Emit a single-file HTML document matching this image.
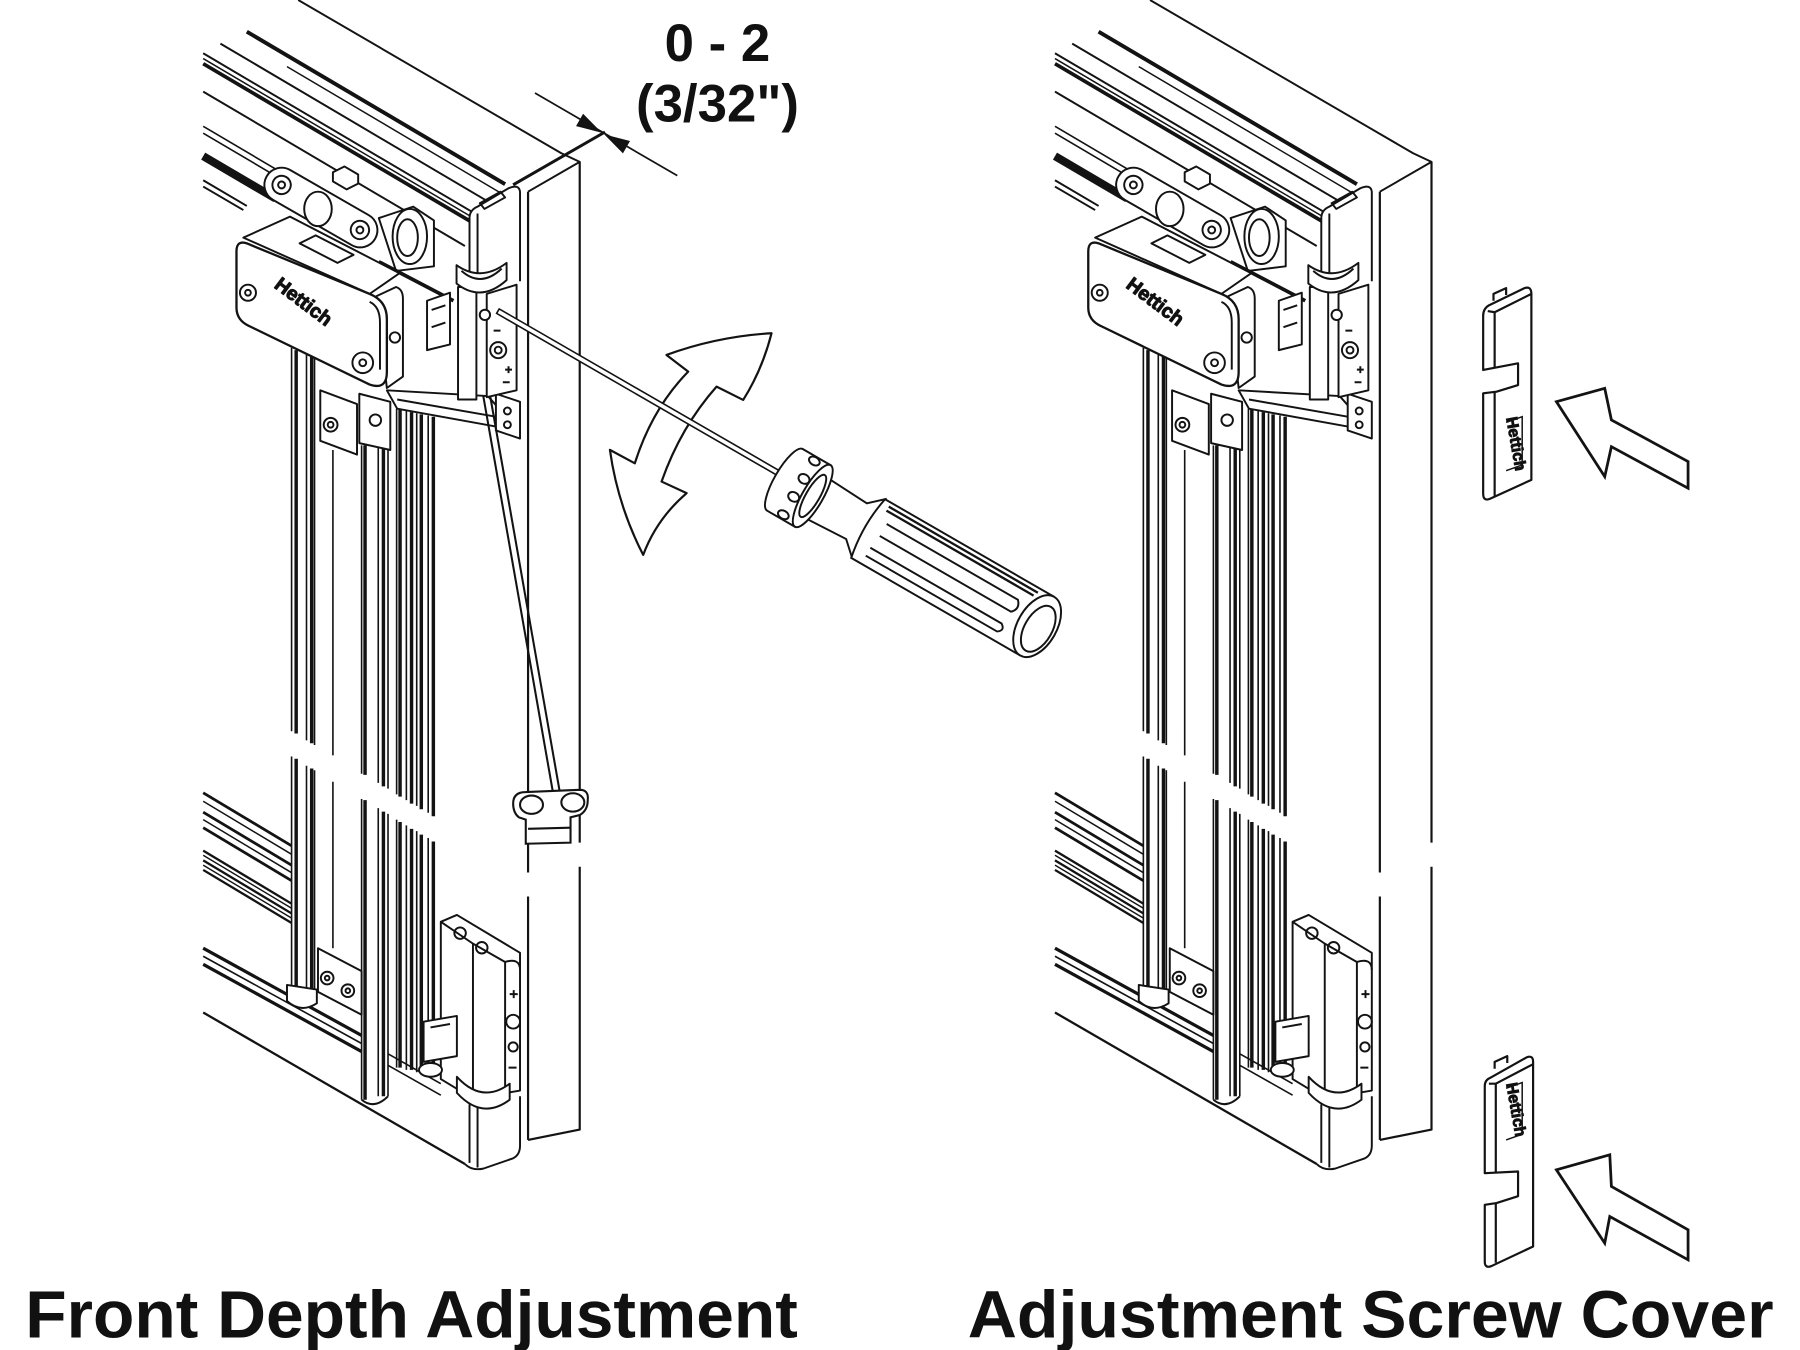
<!DOCTYPE html>
<html><head><meta charset="utf-8">
<style>html,body{margin:0;padding:0;background:#fff;}svg{display:block;}</style>
</head><body>
<svg xmlns="http://www.w3.org/2000/svg" width="1800" height="1350" viewBox="0 0 1568 1176" preserveAspectRatio="none">
<defs>
<g id="fig" fill="none" stroke="#131313" stroke-width="1.7" stroke-linejoin="round">
  <!-- top header rails -->
  <path d="M215,27.6 L440,160.4" stroke-width="3.4"/>
  <path d="M192,38 L430,178.4"/>
  <path d="M250,58 L436,168" stroke-width="1.3"/>
  <path d="M177,46.4 L425,192.7"/>
  <path d="M177,51 L420,194.4" stroke-width="1.3"/>
  <path d="M177,55.5 L415,195.9" stroke-width="3.2"/>
  <path d="M177,79.8 L405,214.3"/>
  <path d="M177,110 L300,182.6 M177,116 L300,188.6" stroke-width="1.4"/>
  <path d="M177,136 L240,173" stroke-width="7"/>
  <path d="M177,157 L215,179.4 M177,162.5 L212,183"/>
  <!-- lower rails -->
  <path d="M177,690.6 L254,736.8 M177,707.5 L254,753.7 M177,721 L254,767.2" stroke-width="2.4"/>
  <path d="M177,698 L254,744.2 M177,714 L254,760.2" stroke-width="1.3"/>
  <path d="M177,741 L254,787.2 M177,749.5 L254,795.7 M177,757.8 L254,804" stroke-width="2"/>
  <path d="M177,745 L254,791.2 M177,753.6 L254,799.8" stroke-width="1.2"/>
  <path d="M177,826 L315,902 M177,840 L315,916" stroke-width="2.8"/>
  <path d="M177,833 L315,909" stroke-width="1.4"/>
  <path d="M338,918 L384,944 M338,928 L384,954" stroke-width="1.4"/>
  <path d="M177,882 L405,1014" stroke-width="2"/>
  <!-- slab -->
  <path d="M259.8,0 L489,133.5 L505,141 L460,167"/>
  <path d="M505,141 V734 M505,755 V984 L460,993 M460,167 V760 M460,781 V993" stroke-width="1.9"/>
  <!-- vertical profiles -->
  <path stroke-width="1.4" d="M254,303 V637 M254,659 V862 M267,309 V645 M267,667 V866 M274,312 V649 M274,671 V868 M290,392 V658 M290,681 V826 M315,388 V674 M315,696 V958 M329.5,390 V682 M329.5,704 V955 M338,390 V687 M338,709 V955 M345.5,356 V692 M345.5,714 V930 M354,358 V697 M354,719 V932 M363,360 V702 M363,724 V934 M373,362 V708 M373,730 V936"/>
  <path stroke-width="3" d="M258,305 V639 M258,661 V862 M271.5,311 V647.5 M271.5,669.5 V868 M318,388 V675 M318,697 V958 M334,390 V685 M334,707 V955 M348.5,357 V694 M348.5,716 V930 M358.5,359 V700 M358.5,722 V932 M367,361 V705 M367,727 V934 M377.5,363 V711 M377.5,733 V936"/>
  <path d="M315,958 Q326,967 338,955"/>
  <!-- carriage -->
  <path d="M330,190 L360,180 L378,192 L378,232 L345,236 Z" fill="#fff"/>
  <ellipse cx="357" cy="206" rx="15" ry="24" fill="#fff"/>
  <ellipse cx="355" cy="207" rx="9" ry="16"/>
  <g transform="translate(245.3,161.1) rotate(29.9)"><rect x="-15" y="-15" width="109" height="30" rx="15" fill="#fff"/><circle r="8"/><circle r="3"/><circle cx="78.7" r="8"/><circle cx="78.7" r="3"/></g>
  <ellipse cx="277" cy="182" rx="12" ry="15" fill="#fff"/>
  <path d="M290,150 L300,145 L312,152 L312,160 L302,165 L290,158 Z" fill="#fff"/>
  <path d="M330,228 L395,262" stroke-width="3.2"/>
  <!-- box -->
  <path d="M212,207 L252.6,188.7 L348,238 L322,256 Z" fill="#fff"/>
  <path d="M261,212 L275,205 L308,222 L294,229 Z"/>
  <path d="M328,258 L345,250 Q351,252 351,260 L351,328 L337,338 Z" fill="#fff"/>
  <path d="M206,219 Q206,209 215,212 L322,256 Q337,262 337,278 L337,324 Q337,340 322,335 L217,284 Q206,279 206,268 Z" fill="#fff" stroke-width="2"/>
  <path d="M322,263 Q331,267 331,281 L331,322"/>
  <circle cx="216" cy="255" r="7"/><circle cx="216" cy="255" r="2.5"/>
  <circle cx="316" cy="316" r="9"/><circle cx="316" cy="316" r="3"/>
  <circle cx="344" cy="294" r="4.5"/>
  <text transform="translate(238,250) rotate(37)" font-family="Liberation Sans, sans-serif" font-weight="bold" font-size="17" fill="#111" stroke="#111" stroke-width="0.9">Hettich</text>
  <!-- plates & bracket -->
  <path d="M279,340 L311,352 L311,396 L279,384 Z" fill="#fff"/>
  <circle cx="288" cy="370" r="6"/><circle cx="288" cy="370" r="2.5"/>
  <path d="M313,343 L340,350 L340,392 L313,386 Z" fill="#fff"/>
  <circle cx="327" cy="366" r="5"/>
  <path d="M337,340 L425,345 L440,362 L440,373 L346,356 Z" fill="#fff"/>
  <path d="M346,348 L432,363"/>
  <path d="M432,343 L453,350 L453,382 L432,375 Z" fill="#fff"/>
  <circle cx="442" cy="358" r="3"/><circle cx="442" cy="370" r="3"/>
  <!-- frame corner top -->
  <path d="M409,240 L409,190 Q409,183 416,180 L443,164 Q452,160 453,167 L453,245" fill="#fff"/>
  <path d="M416,186 V240 M418,177 L436,167 L440,172 L422,182 Z"/>
  <!-- hinge top -->
  <path d="M372,262 L392,255 L392,300 L372,305 Z" fill="#fff"/>
  <path d="M376,270 L388,266 M376,285 L388,281"/>
  <rect x="399" y="250" width="16" height="98" fill="#fff"/>
  <path d="M424,256 L450,248 L450,340 L424,346 Z" fill="#fff"/>
  <circle cx="434" cy="305" r="7"/><circle cx="434" cy="305" r="3"/>
  <circle cx="422.4" cy="274.3" r="4.5" fill="#fff"/>
  <path d="M440,322 h6 M443,319 v6 M438,333 h6 M430,288 h6"/>
  <path d="M397.7,231 L397.7,247 Q419,264 441.3,244 L441.3,229 Q419,246 397.7,231 Z" fill="#fff"/>
  <path d="M402,236 Q419,251 437,234"/>
  <!-- lower plate, foot -->
  <path d="M277,826 L315,846 L315,884 L277,864 Z" fill="#fff"/>
  <circle cx="285" cy="852" r="5.5"/><circle cx="285" cy="852" r="2"/>
  <circle cx="303" cy="863" r="5.5"/><circle cx="303" cy="863" r="2"/>
  <path d="M250,858 L250,872 Q262,883 276,874 L276,862 Z" fill="#fff"/>
  <!-- bottom hinge -->
  <path d="M384,803 L398,797 L453,830 L453,950 L412,957 L384,940 Z" fill="#fff"/>
  <path d="M384,803 L412,822 L440,838 Q453,834 453,845 M412,822 V957 M440,838 V955"/>
  <circle cx="400.8" cy="812.9" r="5"/><circle cx="419.7" cy="825.6" r="5"/>
  <circle cx="447" cy="890" r="6"/><circle cx="447" cy="912" r="4"/>
  <path d="M444,866 h7 M447.5,862.5 v7 M443,930 h7"/>
  <path d="M369,890 L398,885 L398,920 L369,925 Z" fill="#fff"/>
  <path d="M375,895 L392,892"/>
  <ellipse cx="375" cy="932" rx="10" ry="6" fill="#fff"/>
  <path d="M398,938 L398,952 Q420,976 444,958 L444,944 Q420,962 398,938 Z" fill="#fff"/>
  <!-- bottom corner -->
  <path d="M405,1014 Q411,1020 421,1018 L447,1009 Q453,1006 453,998 V955"/>
  <path d="M409,962 V1013 M416,964 V1017"/>
</g>
</defs>
<rect width="1568" height="1176" fill="#fff"/>
<use href="#fig"/>
<use href="#fig" transform="translate(742,0)"/>

<!-- left: dimension -->
<g stroke="#131313" fill="none">
  <path d="M466,81 L590,153" stroke-width="1.5"/>
  <path d="M447,161 L527,115" stroke-width="2.6"/>
  <path d="M522.6,114.7 L502.55,109.5 L508.05,99.9 Z M528,118 L542.55,132.8 L548.05,123.2 Z" fill="#131313" stroke-width="1"/>
</g>
<text x="625" y="53" text-anchor="middle" font-family="Liberation Sans, sans-serif" font-weight="bold" font-size="46" fill="#111">0 - 2</text>
<text x="625" y="106" text-anchor="middle" font-family="Liberation Sans, sans-serif" font-weight="bold" font-size="46" fill="#111">(3/32")</text>

<!-- hex key -->
<g stroke="#131313" fill="none" stroke-width="1.8">
  <path d="M421,345 L482,692 M427,345 L488,692"/>
  <path d="M447,700 Q447,690 458,690 L505,688 Q513,688 512,697 Q512,706 505,710 L497,712 L497,734 L458,735 L458,714 L452,712 Q447,708 447,700 Z" fill="#fff"/>
  <ellipse cx="463" cy="701" rx="10" ry="8"/><ellipse cx="499" cy="699" rx="10" ry="8"/>
  <path d="M460,722 L497,721"/>
</g>

<!-- rotation arrow -->
<path d="M672.1,290.3 Q664,322 647.4,348.4 L624.2,336.8 Q593,372 576.3,419.5 L598.1,429.6 Q572,452 560.3,483.4 Q538,440 531.3,391.9 L553,403.6 Q568,356 599.5,323.7 L580.6,309.2 Q625,293 672.1,290.3 Z" fill="none" stroke="#131313" stroke-width="1.9" stroke-linejoin="round"/>

<!-- screwdriver -->
<g transform="translate(708,432) rotate(30)" fill="#fff" stroke="#131313" stroke-width="1.7">
  <rect x="-318" y="-4.5" width="296" height="4.5" stroke-width="1.4"/>
  <path d="M-28,-31 L0,-31 L0,31 L-28,31 A9,31 0 0 1 -28,-31 Z"/>
  <ellipse cx="-14" cy="-27" rx="5" ry="3.5"/><ellipse cx="-14" cy="-9" rx="5" ry="4"/><ellipse cx="-14" cy="9" rx="5" ry="4"/><ellipse cx="-14" cy="27" rx="5" ry="3.5"/>
  <path d="M4,-20 L44,-18 L56,-29 L56,29 L44,18 L4,20 Z"/>
  <ellipse cx="0" cy="0" rx="9" ry="31"/>
  <ellipse cx="0" cy="0" rx="6" ry="21"/>
  <path d="M56,-29 L226,-29 A17,30 0 0 1 226,30 L56,30 Q50,0 56,-29 Z"/>
  <path d="M62,-25 L212,-25 M62,-21 L210,-21" fill="none" stroke-width="2"/>
  <path d="M68,-11 L200,-11 Q206,-5 200,1 L68,1" fill="none"/>
  <path d="M66,14 L198,14 Q204,18 198,22 L66,22" fill="none"/>
  <ellipse cx="226" cy="0.5" rx="17" ry="29.5"/>
  <ellipse cx="228" cy="2" rx="12" ry="22"/>
</g>

<!-- covers -->
<g fill="#fff" stroke="#131313" stroke-width="1.9" stroke-linejoin="round">
  <path d="M1292,275 L1292,322.3 L1322.4,316.5 L1322.4,335.4 L1303.6,341.2 L1292,342.6 L1292,430 Q1292,437 1298,434.5 L1334,418 L1334,256 Q1334,249 1328,251 L1297,266 Q1292,269 1292,275 Z"/>
  <path d="M1302,272 V320 M1302,341 V432 M1296,271 L1302,272 L1334,256" fill="none"/>
  <path d="M1301,262 L1301,256 L1312,251 L1312,257" fill="none"/>
  <path d="M1293.4,946 Q1293.4,941 1298,939 L1330,921 Q1335.5,919 1335.5,925 L1335.5,1085.8 L1299,1103 Q1293.4,1105 1293.4,1099 L1293.4,1049.5 L1303.6,1048 L1322.4,1042 L1322.4,1020.5 L1293.4,1022 Z"/>
  <path d="M1303,944 V1021 M1303,1048 V1100 M1297,944 L1303,944 L1335.5,927" fill="none"/>
  <path d="M1302,931 L1302,925 L1313,920 L1313,926" fill="none"/>
</g>
<text transform="translate(1312,364) rotate(80)" font-family="Liberation Sans, sans-serif" font-weight="bold" font-size="14" fill="#111" stroke="#111" stroke-width="0.8">Hettich</text>
<text transform="translate(1312,944) rotate(80)" font-family="Liberation Sans, sans-serif" font-weight="bold" font-size="14" fill="#111" stroke="#111" stroke-width="0.8">Hettich</text>
<path d="M1312,368 L1326,363 L1326,405 L1312,410 M1312,948 L1326,943 L1326,988 L1312,993" fill="none" stroke="#131313" stroke-width="1.3"/>

<!-- push arrows -->
<g fill="#fff" stroke="#131313" stroke-width="2.4" stroke-linejoin="miter">
  <path d="M1355.8,349.9 L1397.9,338.3 L1403.7,365.8 L1470.5,402.1 L1470.5,425.3 L1403.7,389.1 L1397.9,415.2 Z"/>
  <path d="M1355.8,1019 L1402.3,1006 L1403.7,1033.5 L1470.5,1071.3 L1470.5,1097.4 L1402.3,1059.7 L1397.9,1082.9 Z"/>
</g>

<!-- titles -->
<text x="22" y="1165" font-family="Liberation Sans, sans-serif" font-weight="bold" font-size="58" fill="#111" textLength="673" lengthAdjust="spacingAndGlyphs">Front Depth Adjustment</text>
<text x="843" y="1165" font-family="Liberation Sans, sans-serif" font-weight="bold" font-size="58" fill="#111" textLength="702" lengthAdjust="spacingAndGlyphs">Adjustment Screw Cover</text>
</svg>
</body></html>
